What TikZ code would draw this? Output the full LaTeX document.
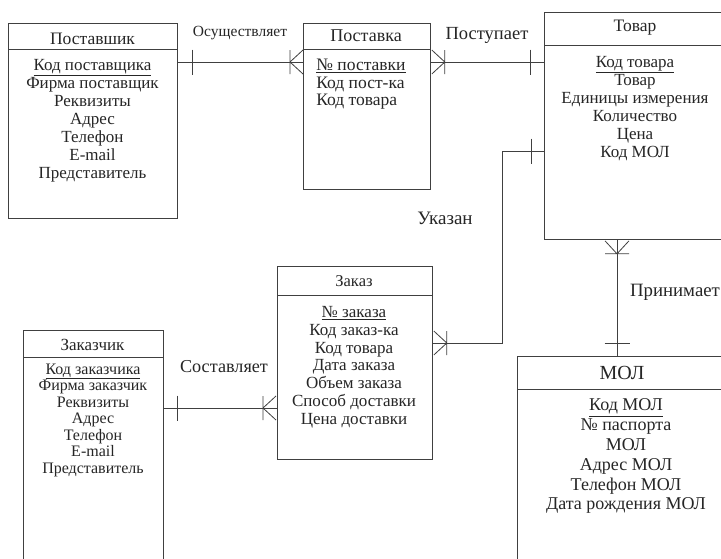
\documentclass[tikz,border=0pt]{standalone}
\usepackage{fontspec}
\setmainfont{Liberation Serif}
\usetikzlibrary{calc}
\tikzset{
  entity/.style={draw, anchor=north west, inner sep=0pt},
  title/.style={inner sep=0pt},
  fields/.style={align=center, inner sep=0pt, anchor=north},
  rel/.style={inner sep=0pt},
  one/.pic={\draw (0,-12.5) -- (0,12.5);},
  many/.pic={\draw (0,-12) -- (0,12) (0,0) -- (13,-12) (0,0) -- (13,12);},
}
\newcommand{\fs}[2]{\fontsize{#1}{#2}\selectfont}
\begin{document}
\begin{tikzpicture}[x=1pt,y=-1pt,line width=0.8pt,draw=black!75,text=black!85]
\useasboundingbox[fill=white] (0,0) rectangle (721,558);

% сущности
\node[entity, minimum width=169pt, minimum height=195pt] (sup) at (8,23) {};
\node[entity, minimum width=127pt, minimum height=166pt] (dlv) at (303,23) {};
\node[entity, minimum width=200pt, minimum height=227pt] (tov) at (544,12) {};
\node[entity, minimum width=155pt, minimum height=193pt] (zak) at (277,266) {};
\node[entity, minimum width=140pt, minimum height=240pt] (zch) at (23,330) {};
\node[entity, minimum width=230pt, minimum height=230pt] (mol) at (517,356) {};

\draw ([yshift=-26pt]sup.north west) -- ([yshift=-26pt]sup.north east);
\draw ([yshift=-26pt]dlv.north west) -- ([yshift=-26pt]dlv.north east);
\draw ([yshift=-33pt]tov.north west) -- ([yshift=-33pt]tov.north east);
\draw ([yshift=-29pt]zak.north west) -- ([yshift=-29pt]zak.north east);
\draw ([yshift=-27pt]zch.north west) -- ([yshift=-27pt]zch.north east);
\draw ([yshift=-33pt]mol.north west) -- ([yshift=-33pt]mol.north east);

% заголовки
\node[title, font=\fs{17.5}{19}] (sup-t) at (92.5,39) {Поставшик};
\node[title, font=\fs{18}{20}] (dlv-t) at (366,36) {Поставка};
\node[title, font=\fs{17.5}{19}] (tov-t) at (635,28) {Товар};
\node[title, font=\fs{16.5}{18}] (zak-t) at (354,281) {Заказ};
\node[title, font=\fs{17}{19}] (zch-t) at (92.5,345) {Заказчик};
\node[title, font=\fs{20}{22}] (mol-t) at (622,373) {МОЛ};

% атрибуты
\node[fields, font=\fs{17}{18}] (sup-f) at (92.5,58.9) {\underline{Код поставщика}\\Фирма поставщик\\Реквизиты\\Адрес\\Телефон\\E-mail\\Представитель};
\node[fields, font=\fs{17.5}{17.5}, align=left, anchor=north west] (dlv-f) at (316,58.7) {\underline{№ поставки}\\Код пост-ка\\Код товара};
\node[fields, font=\fs{17}{18}] (tov-f) at (635,55.9) {\underline{Код товара}\\Товар\\Единицы измерения\\Количество\\Цена\\Код МОЛ};
\node[fields, font=\fs{17}{17.8}] (zak-f) at (354,305.9) {\underline{№ заказа}\\Код заказ-ка\\Код товара\\Дата заказа\\Объем заказа\\Способ доставки\\Цена доставки};
\node[fields, font=\fs{16}{16.5}] (zch-f) at (93,363.2) {\underline{Код заказчика}\\Фирма заказчик\\Реквизиты\\Адрес\\Телефон\\E-mail\\Представитель};
\node[fields, font=\fs{18}{19.8}] (mol-f) at (626,398.5) {\underline{Код МОЛ}\\№ паспорта\\МОЛ\\Адрес МОЛ\\Телефон МОЛ\\Дата рождения МОЛ};

% связи
\draw ([yshift=-39pt]sup.north east) coordinate (a1) -- ([yshift=-39pt]dlv.north west) coordinate (a2);
\pic at ([xshift=15pt]a1) {one};
\pic at ([xshift=-13pt]a2) {many};
\node[rel, font=\fs{15.5}{17}] (a-l) at (240,33) {Осуществляет};

\draw ([yshift=-39pt]dlv.north east) coordinate (b1) -- ([yshift=-50pt]tov.north west) coordinate (b2);
\pic[rotate=180] at ([xshift=14pt]b1) {many};
\pic at ([xshift=-14pt]b2) {one};
\node[rel, font=\fs{18.5}{20}] (b-l) at (487,35) {Поступает};

\draw ([yshift=-77pt]zak.north east) coordinate (c1) -- ++(70,0) |- ([yshift=-139pt]tov.north west) coordinate (c2);
\pic[rotate=180] at ([xshift=14pt]c1) {many};
\pic at ([xshift=-13pt]c2) {one};
\node[rel, font=\fs{19}{21}] (c-l) at (445,218) {Указан};

\draw ([xshift=73pt]tov.south west) coordinate (d1) -- (d1 |- mol.north) coordinate (d2);
\pic[rotate=90] at ([yshift=-14pt]d1) {many};
\pic[rotate=90] at ([yshift=13pt]d2) {one};
\node[rel, font=\fs{18.8}{20}] (d-l) at (675,292) {Принимает};

\draw ([yshift=-78pt]zch.north east) coordinate (e1) -- ([yshift=-142pt]zak.north west) coordinate (e2);
\pic at ([xshift=14pt]e1) {one};
\pic at ([xshift=-14pt]e2) {many};
\node[rel, font=\fs{18.2}{20}] (e-l) at (224,367) {Составляет};
\end{tikzpicture}
\end{document}
